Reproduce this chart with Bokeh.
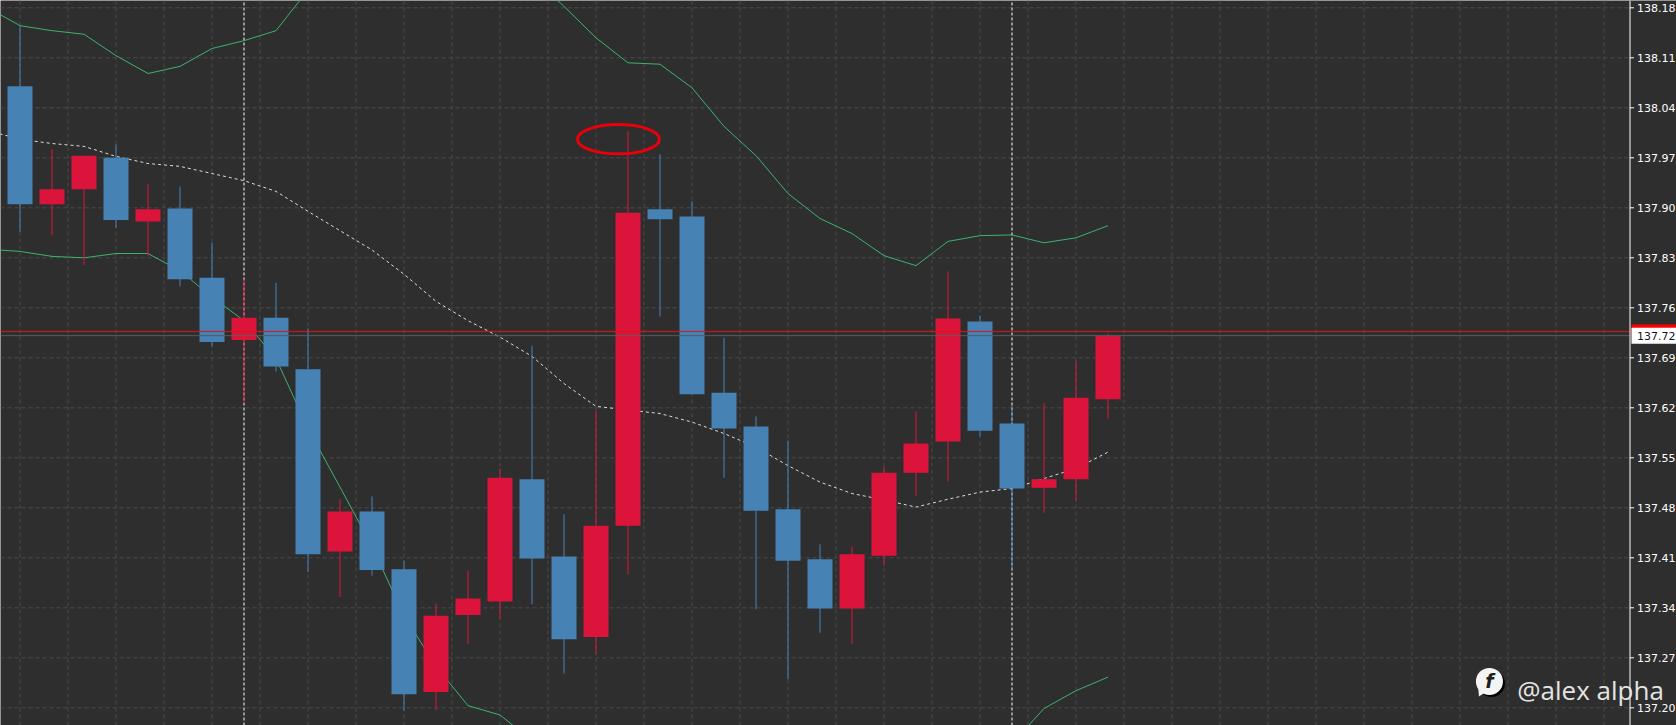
from bokeh.plotting import figure
from bokeh.models import Range1d, ColumnDataSource
from bokeh.embed import file_html
from bokeh.resources import INLINE
from bokeh.core.properties import value

# ---------------- data (candles, bar index 0..34) ----------------
bar_index = list(range(35))
opens = [138.070, 137.905, 137.926, 137.970, 137.881, 137.899, 137.802, 137.715, 137.746, 137.674,
         137.419, 137.475, 137.394, 137.222, 137.330, 137.349, 137.520, 137.412, 137.299, 137.455,
         137.898, 137.888, 137.641, 137.594, 137.478, 137.408, 137.339, 137.413, 137.529, 137.573,
         137.741, 137.598, 137.508, 137.520, 137.632]
highs = [138.155, 137.982, 137.973, 137.989, 137.933, 137.930, 137.851, 137.800, 137.795, 137.731,
         137.492, 137.496, 137.406, 137.346, 137.392, 137.535, 137.707, 137.471, 137.616, 138.007,
         137.975, 137.909, 137.718, 137.608, 137.574, 137.429, 137.426, 137.538, 137.615, 137.811,
         137.749, 137.625, 137.627, 137.686, 137.724]
lows = [137.866, 137.862, 137.820, 137.872, 137.833, 137.790, 137.706, 137.626, 137.671, 137.390,
        137.355, 137.385, 137.196, 137.197, 137.289, 137.325, 137.345, 137.248, 137.276, 137.387,
        137.748, 137.639, 137.522, 137.338, 137.240, 137.305, 137.289, 137.399, 137.496, 137.517,
        137.580, 137.392, 137.473, 137.490, 137.605]
closes = [137.905, 137.926, 137.973, 137.883, 137.898, 137.800, 137.712, 137.746, 137.678, 137.415,
          137.475, 137.393, 137.219, 137.329, 137.353, 137.522, 137.409, 137.296, 137.455, 137.893,
          137.884, 137.639, 137.591, 137.476, 137.406, 137.339, 137.415, 137.529, 137.570, 137.745,
          137.588, 137.507, 137.520, 137.634, 137.721]

# Bollinger bands (bar index -1..34)
band_index = list(range(-1, 35))
bb_upper = [138.180, 138.155, 138.148, 138.143, 138.113, 138.088, 138.098, 138.123, 138.134, 138.148,
            138.205, 138.230, 138.250, 138.270, 138.280, 138.270, 138.250, 138.224, 138.182, 138.138,
            138.103, 138.101, 138.068, 138.014, 137.973, 137.920, 137.885, 137.864, 137.833, 137.819,
            137.853, 137.861, 137.862, 137.851, 137.858, 137.875]
bb_middle = [138.008, 137.996, 137.990, 137.986, 137.972, 137.962, 137.958, 137.948, 137.938, 137.923,
             137.895, 137.868, 137.841, 137.807, 137.769, 137.742, 137.719, 137.692, 137.654, 137.622,
             137.617, 137.612, 137.600, 137.584, 137.565, 137.539, 137.516, 137.500, 137.491, 137.481,
             137.492, 137.502, 137.507, 137.521, 137.535, 137.558]
bb_lower = [137.842, 137.839, 137.832, 137.830, 137.836, 137.836, 137.812, 137.775, 137.742, 137.689,
            137.591, 137.509, 137.426, 137.329, 137.258, 137.203, 137.190, 137.154, 137.130, 137.100,
            137.050, 137.000, 136.970, 136.950, 136.950, 136.970, 137.000, 137.030, 137.060, 137.090,
            137.110, 137.130, 137.150, 137.199, 137.224, 137.243]

period_separators = [7, 31]
ask_price = 137.727
bid_price = 137.721
bid_label = "137.72"

y_ticks = [137.20, 137.27, 137.34, 137.41, 137.48, 137.55, 137.62, 137.69, 137.76, 137.83,
           137.90, 137.97, 138.04, 138.11, 138.18]
y_tick_labels = ["137.20", "137.27", "137.34", "137.41", "137.48", "137.55", "137.62", "137.69",
                 "137.76", "137.83", "137.90", "137.97", "138.04", "138.11", "138.18"]

# highlighted high (red ellipse)
highlight_x, highlight_y = 18.70, 137.996
highlight_w, highlight_h = 2.56, 0.041

watermark_text = "@alex alpha"
watermark_x, watermark_y = 46.79, 137.2256
logo_x, logo_y = 45.92, 137.2370

# ---------------- styling / layout ----------------
BG = "#2e2e2e"
GRID = "#4a4a4a"
UP = "#dc143c"
DOWN = "#4682b4"
BAND = "#3cb371"
W, H = 1676, 725
PX_PER_BAR = 32.0
PX_PER_PRICE = 714.3
x_start = -19.5 / PX_PER_BAR
x_end = x_start + W / PX_PER_BAR
y_end = 138.18 + 7.3 / PX_PER_PRICE
y_start = y_end - H / PX_PER_PRICE
axis_x = x_start + 1629.5 / PX_PER_BAR      # price-scale line
dx = 1.0 / PX_PER_BAR                       # one pixel in bar units
dy = 1.0 / PX_PER_PRICE                     # one pixel in price units

p = figure(width=W, height=H,
           x_range=Range1d(x_start, x_end), y_range=Range1d(y_start, y_end),
           x_axis_location=None, y_axis_location=None,
           output_backend="svg", toolbar_location=None,
           background_fill_color=BG, border_fill_color=BG,
           min_border=0, outline_line_color=None)
p.grid.visible = False

# grid
n = len(y_ticks)
p.segment(x0=[x_start] * n, y0=y_ticks, x1=[axis_x] * n, y1=y_ticks,
          line_color=GRID, line_width=1, line_dash="4 3")
grid_every = 1.5
xgrid_ticks = []
k = 0
while k * grid_every < axis_x - 0.3:
    xgrid_ticks.append(k * grid_every)
    k += 1
m = len(xgrid_ticks)
p.segment(x0=xgrid_ticks, y0=[y_start] * m, x1=xgrid_ticks, y1=[y_end] * m,
          line_color=GRID, line_width=1, line_dash="4 3")

# period separators
s_n = len(period_separators)
p.segment(x0=period_separators, y0=[y_start] * s_n, x1=period_separators, y1=[y_end] * s_n,
          line_color="#ffffff", line_width=1, line_dash="3 2")

# Bollinger bands (below candles)
p.line(band_index, bb_upper, line_color=BAND, line_width=1)
p.line(band_index, bb_lower, line_color=BAND, line_width=1)
p.line(band_index, bb_middle, line_color="#dcdcdc", line_width=1, line_dash="3 3")

# candles
colors = [UP if c >= o else DOWN for o, c in zip(opens, closes)]
src = ColumnDataSource(dict(
    x=bar_index, high=highs, low=lows,
    top=[max(o, c) for o, c in zip(opens, closes)],
    bottom=[min(o, c) for o, c in zip(opens, closes)],
    color=colors))
p.segment(x0="x", y0="low", x1="x", y1="high", line_color="color", line_width=1, source=src)
p.vbar(x="x", width=25 / PX_PER_BAR, top="top", bottom="bottom",
       fill_color="color", line_color=None, source=src)

# price lines
p.segment(x0=[x_start], y0=[bid_price], x1=[axis_x], y1=[bid_price], line_color="#5c5c5c", line_width=1)
p.segment(x0=[x_start], y0=[ask_price], x1=[axis_x], y1=[ask_price], line_color="#e0141c", line_width=1)

# highlight ellipse
p.ellipse(x=[highlight_x], y=[highlight_y], width=highlight_w, height=highlight_h,
          fill_color=None, line_color="#e8000b", line_width=3)

# price scale (right)
p.segment(x0=[axis_x], y0=[y_start], x1=[axis_x], y1=[y_end], line_color="#ffffff", line_width=1)
p.segment(x0=[axis_x] * n, y0=y_ticks, x1=[axis_x + 4 * dx] * n, y1=y_ticks,
          line_color="#ffffff", line_width=1)
p.text(x=[axis_x + 7 * dx] * n, y=y_ticks, text=y_tick_labels,
       text_font=value("DejaVu Sans"), text_font_size=value("11px"),
       text_color="#ffffff", text_baseline="middle", text_align="left")

# price tags
tag_x = (axis_x + 1.5 * dx + x_end) / 2
tag_w = x_end - axis_x - 1.5 * dx
p.rect(x=[tag_x], y=[ask_price], width=tag_w, height=14, height_units="screen",
       fill_color="#ff0000", line_color=None)
p.rect(x=[tag_x], y=[bid_price], width=tag_w, height=16, height_units="screen",
       fill_color="#ffffff", line_color=None)
p.text(x=[axis_x + 7 * dx], y=[bid_price], text=[bid_label],
       text_font=value("DejaVu Sans"), text_font_size=value("11px"),
       text_color="#141428", text_baseline="middle", text_align="left")

# watermark
p.scatter(x=[logo_x + 2 * dx], y=[logo_y - 2 * dy], size=27, marker="circle",
          fill_color="#000000", line_color=None)
p.scatter(x=[logo_x - 8 * dx], y=[logo_y - 10 * dy], size=10, marker="triangle", angle=0.6,
          fill_color="#f4f4f4", line_color=None)
p.scatter(x=[logo_x], y=[logo_y], size=27, marker="circle",
          fill_color="#f4f4f4", line_color=None)
p.text(x=[logo_x], y=[logo_y], text=["f"], text_font=value("DejaVu Sans"),
       text_font_size=value("19px"), text_font_style="bold italic", text_color="#1e1e1e",
       text_align="center", text_baseline="middle")
p.text(x=[watermark_x], y=[watermark_y], text=[watermark_text], text_font=value("Open Sans"),
       text_font_size=value("26px"), text_color="#e4e4e4",
       text_align="left", text_baseline="alphabetic")

open("out.html", "w").write(file_html(p, INLINE))
